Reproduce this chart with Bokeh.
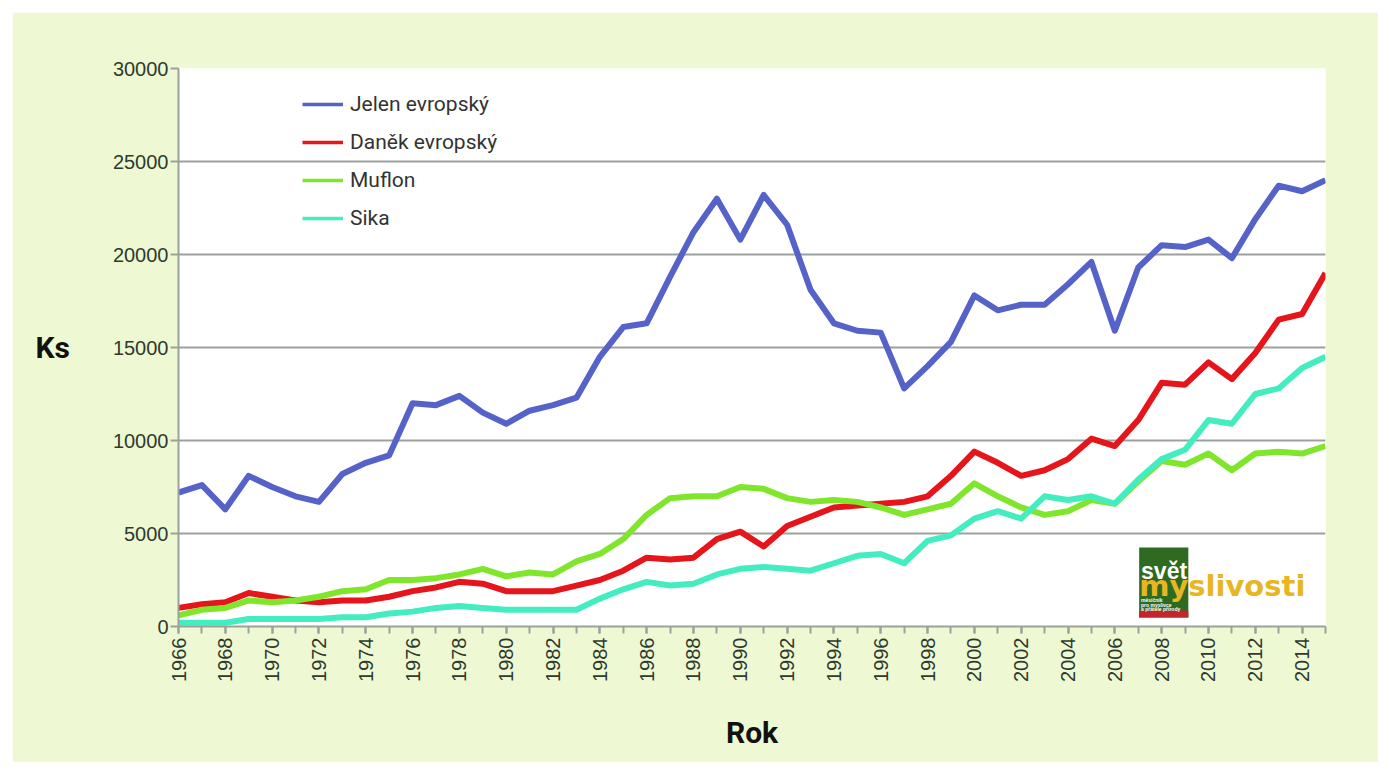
import math
from bokeh.plotting import figure
from bokeh.models import (Legend, LegendItem, SingleIntervalTicker, FixedTicker,
                          BoxAnnotation, Label, Range1d, NumeralTickFormatter)
from bokeh.embed import file_html
from bokeh.resources import INLINE

years = list(range(1966, 2016))

jelen = [7200, 7600, 6300, 8100, 7500, 7000, 6700, 8200, 8800, 9200,
         12000, 11900, 12400, 11500, 10900, 11600, 11900, 12300, 14500, 16100,
         16300, 18800, 21200, 23000, 20800, 23200, 21600, 18100, 16300, 15900,
         15800, 12800, 14000, 15300, 17800, 17000, 17300, 17300, 18400, 19600,
         15900, 19300, 20500, 20400, 20800, 19800, 21900, 23700, 23400, 24000]

danek = [1000, 1200, 1300, 1800, 1600, 1400, 1300, 1400, 1400, 1600,
         1900, 2100, 2400, 2300, 1900, 1900, 1900, 2200, 2500, 3000,
         3700, 3600, 3700, 4700, 5100, 4300, 5400, 5900, 6400, 6500,
         6600, 6700, 7000, 8100, 9400, 8800, 8100, 8400, 9000, 10100,
         9700, 11100, 13100, 13000, 14200, 13300, 14700, 16500, 16800, 19000]

muflon = [600, 900, 1000, 1400, 1300, 1400, 1600, 1900, 2000, 2500,
          2500, 2600, 2800, 3100, 2700, 2900, 2800, 3500, 3900, 4700,
          6000, 6900, 7000, 7000, 7500, 7400, 6900, 6700, 6800, 6700,
          6400, 6000, 6300, 6600, 7700, 7000, 6400, 6000, 6200, 6800,
          6600, 7800, 8900, 8700, 9300, 8400, 9300, 9400, 9300, 9700]

sika = [200, 200, 200, 400, 400, 400, 400, 500, 500, 700,
        800, 1000, 1100, 1000, 900, 900, 900, 900, 1500, 2000,
        2400, 2200, 2300, 2800, 3100, 3200, 3100, 3000, 3400, 3800,
        3900, 3400, 4600, 4900, 5800, 6200, 5800, 7000, 6800, 7000,
        6600, 7900, 9000, 9500, 11100, 10900, 12500, 12800, 13900, 14500]

series_names = ["Jelen evropský", "Daněk evropský", "Muflon", "Sika"]
series_colors = ["#5563C9", "#E5151B", "#80E62C", "#44EDBF"]
y_ticks = [0, 5000, 10000, 15000, 20000, 25000, 30000]

PANEL = "#EEF9D3"
GRID = "#9BA29B"
TXT = "#2F3A2F"

p = figure(width=1366, height=750,
           x_range=Range1d(1966, 2015), y_range=Range1d(0, 30000),
           output_backend="svg", toolbar_location=None,
           min_border_left=166, min_border_right=53,
           min_border_top=56, min_border_bottom=136,
           background_fill_color="white", border_fill_color=PANEL,
           outline_line_color=None)
p.margin = (12, 11, 11, 12)

# grid
p.xgrid.visible = False
p.ygrid.ticker = FixedTicker(ticks=y_ticks)
p.ygrid.grid_line_color = GRID
p.ygrid.grid_line_width = 2

# y axis
yax = p.yaxis[0]
yax.ticker = FixedTicker(ticks=y_ticks)
yax.formatter = NumeralTickFormatter(format="0")
yax.axis_line_color = GRID
yax.axis_line_width = 2
yax.major_tick_line_color = GRID
yax.major_tick_line_width = 2
yax.major_tick_out = 8
yax.major_tick_in = 0
yax.minor_tick_line_color = None
yax.major_label_standoff = 2
yax.major_label_text_font = "Liberation Sans"
yax.major_label_text_font_size = "20px"
yax.major_label_text_color = TXT
yax.axis_label = "Ks"
yax.axis_label_text_font = "Roboto"
yax.axis_label_text_font_style = "bold"
yax.axis_label_text_font_size = "30px"
yax.axis_label_text_color = "#111111"
yax.axis_label_standoff = 40
try:
    yax.axis_label_orientation = "horizontal"
except Exception:
    pass

# x axis
xax = p.xaxis[0]
xax.ticker = SingleIntervalTicker(interval=2, num_minor_ticks=2)
xax.axis_line_color = GRID
xax.axis_line_width = 2
xax.major_tick_line_color = GRID
xax.major_tick_line_width = 2
xax.minor_tick_line_color = GRID
xax.minor_tick_line_width = 2
xax.major_tick_out = 7
xax.major_tick_in = 0
xax.minor_tick_out = 7
xax.minor_tick_in = 0
xax.major_label_orientation = math.pi / 2
xax.major_label_standoff = 4
xax.major_label_text_font = "Liberation Sans"
xax.major_label_text_font_size = "20px"
xax.major_label_text_color = TXT
xax.axis_label = "Rok"
xax.axis_label_text_font = "Roboto"
xax.axis_label_text_font_style = "bold"
xax.axis_label_text_font_size = "30px"
xax.axis_label_text_color = "#111111"
xax.axis_label_standoff = 30

# data lines
all_series = [jelen, danek, muflon, sika]
items = []
for name, vals, col in zip(series_names, all_series, series_colors):
    p.line(years, vals, line_width=6, line_color=col, line_join="round")
    # thinner, hidden twin used only for the legend swatch
    twin = p.line(years, vals, line_width=3.5, line_color=col)
    twin.visible = False
    items.append(LegendItem(label=name, renderers=[twin]))

legend = Legend(items=items, location=(124, 396), orientation="vertical",
                border_line_color=None, background_fill_alpha=0,
                inactive_fill_alpha=0,
                padding=0, margin=0, spacing=14,
                glyph_width=41, glyph_height=24, label_height=24,
                label_standoff=7, label_text_font="Roboto",
                label_text_font_size="21px", label_text_color="#333333")
p.add_layout(legend)

# logo "svět myslivosti"
p.add_layout(BoxAnnotation(left=2007.04, right=2009.14, bottom=484, top=4247,
                           fill_color="#2E6A1F", fill_alpha=1, line_color=None))
p.add_layout(BoxAnnotation(left=2007.04, right=2009.14, bottom=484, top=860,
                           fill_color="#C4252A", fill_alpha=1, line_color=None))
p.add_layout(Label(x=2007.12, y=3010, text="svět", text_color="white",
                   text_font="Liberation Sans", text_font_style="bold",
                   text_font_size="23px", text_baseline="alphabetic"))
p.add_layout(Label(x=2007.04, y=2204, text="myslivosti", text_color="#E8B622",
                   text_font="DejaVu Sans", text_font_style="bold",
                   text_font_size="29px", text_baseline="alphabetic"))
for t, yy in [("měsíčník", 1450), ("pro myslivce", 1180), ("a přátele přírody", 915)]:
    p.add_layout(Label(x=2007.12, y=yy, text=t, text_color="white",
                       text_font="Liberation Sans", text_font_style="bold",
                       text_font_size="5px", text_baseline="alphabetic"))

open("out.html", "w").write(file_html(p, INLINE))
